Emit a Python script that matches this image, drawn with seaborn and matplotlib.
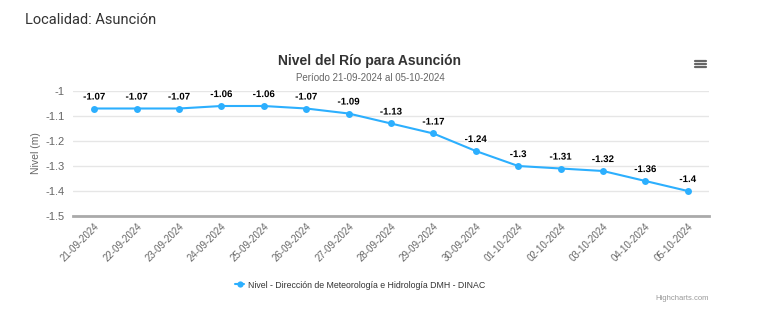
import matplotlib
matplotlib.use("Agg")
import matplotlib.pyplot as plt
import seaborn as sns
import pandas as pd
from matplotlib.lines import Line2D
import matplotlib.patheffects as pe

fechas = ["21-09-2024", "22-09-2024", "23-09-2024", "24-09-2024", "25-09-2024",
          "26-09-2024", "27-09-2024", "28-09-2024", "29-09-2024", "30-09-2024",
          "01-10-2024", "02-10-2024", "03-10-2024", "04-10-2024", "05-10-2024"]
niveles = [-1.07, -1.07, -1.07, -1.06, -1.06, -1.07, -1.09, -1.13, -1.17, -1.24,
           -1.3, -1.31, -1.32, -1.36, -1.4]
etiquetas = ["-1.07", "-1.07", "-1.07", "-1.06", "-1.06", "-1.07", "-1.09", "-1.13",
             "-1.17", "-1.24", "-1.3", "-1.31", "-1.32", "-1.36", "-1.4"]
y_ticks = [-1.5, -1.4, -1.3, -1.2, -1.1, -1.0]
y_ticklabels = ["-1.5", "-1.4", "-1.3", "-1.2", "-1.1", "-1"]

sns.set_theme(style="white")
plt.rcParams['font.family'] = ['Liberation Sans', 'DejaVu Sans']

color = "#2caffe"
df = pd.DataFrame({"fecha": fechas, "nivel": niveles})

fig = plt.figure(figsize=(7.7, 3.27), dpi=100)
ax = fig.add_axes([73/770, 1-216/327, (709-73)/770, (216-91)/327])

sns.lineplot(data=df, x="fecha", y="nivel", ax=ax, color=color, marker="o",
             markersize=5, markeredgewidth=0, linewidth=1.5, sort=False)

ax.set_xlim(-0.5, len(fechas)-0.5)
ax.set_ylim(-1.5, -1.0)
ax.set_yticks(y_ticks)
ax.set_yticklabels(y_ticklabels)
ax.yaxis.grid(True, color="#e6e6e6", linewidth=1)
ax.set_axisbelow(True)
for s in ["top", "right", "left"]:
    ax.spines[s].set_visible(False)
ax.spines["bottom"].set_color("#aaaaaa")
ax.spines["bottom"].set_linewidth(2)
ax.tick_params(axis="y", length=0, labelsize=8, colors="#666666", pad=6)
ax.tick_params(axis="x", length=0, labelsize=7, colors="#666666", pad=4)
plt.setp(ax.get_xticklabels(), rotation=45, ha="right", rotation_mode="anchor")
ax.set_xlabel("")
ax.set_ylabel("Nivel (m)", fontsize=7.5, color="#666666", labelpad=3)

for i, (v, t) in enumerate(zip(niveles, etiquetas)):
    ax.annotate(t, xy=(i, v), xytext=(0, 5), textcoords="offset points",
                ha="center", va="bottom", fontsize=7, fontweight="bold",
                color="black",
                path_effects=[pe.withStroke(linewidth=2, foreground="white")])

fig.text(25/770, 1-20/327, "Localidad: Asunción", fontsize=10.5,
         family=["Roboto", "DejaVu Sans"], color="#333333", va="center", ha="left")
fig.text(370/770, 1-61/327, "Nivel del Río para Asunción", fontsize=10,
         fontweight="bold", color="#333333", ha="center", va="center")
fig.text(370/770, 1-78/327, "Período 21-09-2024 al 05-10-2024", fontsize=7,
         color="#666666", ha="center", va="center")

# hamburger menu icon
for dy in (-3, 0, 3):
    fig.add_artist(Line2D([695/770, 706/770], [1-(64+dy)/327]*2,
                          color="#666666", linewidth=1.6, transform=fig.transFigure))

handle = Line2D([], [], color=color, marker="o", markersize=4.5,
                markeredgewidth=0, linewidth=1.5)
fig.legend([handle], ["Nivel - Dirección de Meteorología e Hidrología DMH - DINAC"],
           loc="center", bbox_to_anchor=(360/770, 1-285/327), frameon=False,
           fontsize=6.3, handlelength=1.0, handletextpad=0.4, labelcolor="#333333")
fig.text(709/770, 1-298/327, "Highcharts.com", fontsize=5.5, color="#999999",
         ha="right", va="center")

fig.savefig("out.png", dpi=100)
